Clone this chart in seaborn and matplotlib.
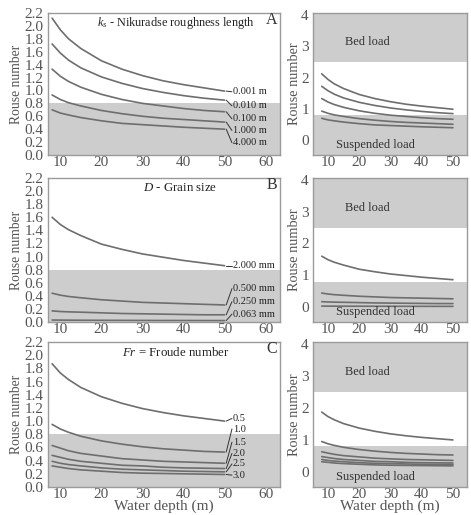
import numpy as np
import pandas as pd
import matplotlib
matplotlib.use("Agg")
import matplotlib.pyplot as plt
import seaborn as sns

sns.set_theme(style="white")
plt.rcParams['font.family'] = ['Liberation Serif', 'DejaVu Serif']
plt.rcParams['mathtext.fontset'] = 'custom'
plt.rcParams['mathtext.rm'] = 'Liberation Serif'
plt.rcParams['mathtext.it'] = 'Liberation Serif:italic'

# ---------------- data ----------------
depth = [8, 10, 12, 15, 20, 25, 30, 35, 40, 45, 50]

ks_labels = ["0.001 m", "0.010 m", "0.100 m", "1.000 m", "4.000 m"]
ks_0001 = [2.12, 1.94, 1.80, 1.65, 1.46, 1.33, 1.23, 1.15, 1.09, 1.04, 0.99]
ks_0010 = [1.72, 1.58, 1.47, 1.35, 1.21, 1.11, 1.03, 0.97, 0.92, 0.88, 0.85]
ks_0100 = [1.33, 1.22, 1.14, 1.05, 0.94, 0.86, 0.80, 0.76, 0.72, 0.69, 0.67]
ks_1000 = [0.93, 0.86, 0.81, 0.76, 0.69, 0.64, 0.60, 0.57, 0.55, 0.53, 0.51]
ks_4000 = [0.70, 0.65, 0.62, 0.58, 0.53, 0.49, 0.47, 0.45, 0.43, 0.415, 0.40]

d_labels = ["2.000 mm", "0.500 mm", "0.250 mm", "0.063 mm"]
d_2000 = [1.60, 1.49, 1.41, 1.32, 1.19, 1.11, 1.04, 0.99, 0.94, 0.90, 0.86]
d_0500 = [0.44, 0.41, 0.39, 0.37, 0.34, 0.32, 0.30, 0.29, 0.28, 0.27, 0.26]
d_0250 = [0.17, 0.16, 0.155, 0.15, 0.14, 0.13, 0.125, 0.12, 0.115, 0.11, 0.11]
d_0063 = [0.03, 0.029, 0.028, 0.027, 0.026, 0.025, 0.024, 0.023, 0.023, 0.022, 0.022]

fr_labels = ["0.5", "1.0", "1.5", "2.0", "2.5", "3.0"]
fr_05 = [1.87, 1.73, 1.63, 1.51, 1.37, 1.27, 1.19, 1.13, 1.08, 1.04, 1.00]
fr_10 = [0.95, 0.88, 0.83, 0.77, 0.70, 0.65, 0.61, 0.58, 0.56, 0.54, 0.53]
fr_15 = [0.63, 0.59, 0.55, 0.51, 0.47, 0.43, 0.41, 0.39, 0.38, 0.37, 0.36]
fr_20 = [0.48, 0.45, 0.42, 0.39, 0.36, 0.33, 0.32, 0.30, 0.29, 0.285, 0.28]
fr_25 = [0.39, 0.36, 0.34, 0.32, 0.29, 0.27, 0.26, 0.25, 0.24, 0.235, 0.23]
fr_30 = [0.32, 0.30, 0.28, 0.26, 0.24, 0.22, 0.21, 0.205, 0.20, 0.195, 0.19]

suspended_limit = 0.8
bedload_limit = 2.5

panels = [
    dict(letter="A", title=r"$k_s$ - Nikuradse roughness length", labels=ks_labels,
         series=[ks_0001, ks_0010, ks_0100, ks_1000, ks_4000],
         label_y=[0.98, 0.76, 0.56, 0.38, 0.19], title_x=0.21, title_fs=8.8),
    dict(letter="B", title=r"$D$ - Grain size", labels=d_labels,
         series=[d_2000, d_0500, d_0250, d_0063],
         label_y=[0.86, 0.51, 0.31, 0.12], title_x=0.41, title_fs=9.3),
    dict(letter="C", title=r"$Fr$ = Froude number", labels=fr_labels,
         series=[fr_05, fr_10, fr_15, fr_20, fr_25, fr_30],
         label_y=[1.04, 0.88, 0.68, 0.51, 0.35, 0.18], title_x=0.32, title_fs=9.3),
]

# ---------------- style ----------------
line_col = "#6e6e6e"
shade_col = "#cdcdcd"
spine_col = "#9a9a9a"
tick_col = "#555555"

W, H = 471, 515
fig = plt.figure(figsize=(W / 100, H / 100), dpi=100)
rows = [(13, 155), (178, 322), (342, 487)]

for i, (p, (top, bot)) in enumerate(zip(panels, rows)):
    b = (H - bot) / H
    h = (bot - top) / H
    axL = fig.add_axes([48 / W, b, 232 / W, h])
    axR = fig.add_axes([313 / W, b, 154 / W, h])

    rows_df = []
    for lab, s in zip(p["labels"], p["series"]):
        for x, y in zip(depth, s):
            rows_df.append((lab, x, y))
    df = pd.DataFrame(rows_df, columns=["series", "depth", "rouse"])
    pal = {lab: line_col for lab in p["labels"]}

    # left panel
    axL.axhspan(0, suspended_limit, color=shade_col, lw=0, zorder=0)
    sns.lineplot(data=df, x="depth", y="rouse", hue="series", palette=pal,
                 estimator=None, legend=False, lw=1.2, ax=axL, zorder=2)
    axL.set_xlim(7.0, 63.5)
    axL.set_ylim(0, 2.2)
    axL.set_yticks(np.arange(0, 2.21, 0.2))
    axL.set_yticklabels([f"{v:.1f}" for v in np.arange(0, 2.21, 0.2)])
    axL.set_xticks([10, 20, 30, 40, 50, 60])
    axL.set_ylabel("Rouse number", fontsize=9.8, color=tick_col, labelpad=1)
    axL.text(p["title_x"], 0.93, p["title"], transform=axL.transAxes,
             fontsize=p["title_fs"], color="#222222", ha="left", va="center")
    axL.text(0.988, 0.95, p["letter"], transform=axL.transAxes,
             fontsize=11.5, color="#333333", ha="right", va="center")
    for s, lab, ly in zip(p["series"], p["labels"], p["label_y"]):
        axL.plot([50.4, 51.8], [s[-1], ly], color="#333333", lw=0.7)
        axL.text(52.0, ly, lab, fontsize=7.5, color="#222222", ha="left", va="center")

    # right panel
    axR.axhspan(-0.6, suspended_limit, color=shade_col, lw=0, zorder=0)
    axR.axhspan(bedload_limit, 4.2, color=shade_col, lw=0, zorder=0)
    sns.lineplot(data=df, x="depth", y="rouse", hue="series", palette=pal,
                 estimator=None, legend=False, lw=1.2, ax=axR, zorder=2)
    axR.set_xlim(5.2, 54.5)
    axR.set_ylim(-0.47, 4.06)
    axR.set_yticks([0, 1, 2, 3, 4])
    axR.set_xticks([10, 20, 30, 40, 50])
    axR.set_ylabel("Rouse number", fontsize=10.3, color=tick_col, labelpad=0)
    axR.text(22.6, 3.12, "Bed load", fontsize=9, color="#333333", ha="center", va="center")
    axR.text(25.2, -0.16, "Suspended load", fontsize=9, color="#333333", ha="center", va="center")

    for ax in (axL, axR):
        ax.set_xlabel("")
        for sp in ax.spines.values():
            sp.set_color(spine_col)
            sp.set_linewidth(1.0)
        ax.tick_params(axis="both", labelsize=11, colors=tick_col, length=2,
                       pad=1, width=0.8)
        ax.tick_params(axis="x", pad=-1)
        if i == 2:
            ax.set_xlabel("Water depth (m)", fontsize=11, color=tick_col, labelpad=-1)

fig.savefig("out.png", dpi=100)
